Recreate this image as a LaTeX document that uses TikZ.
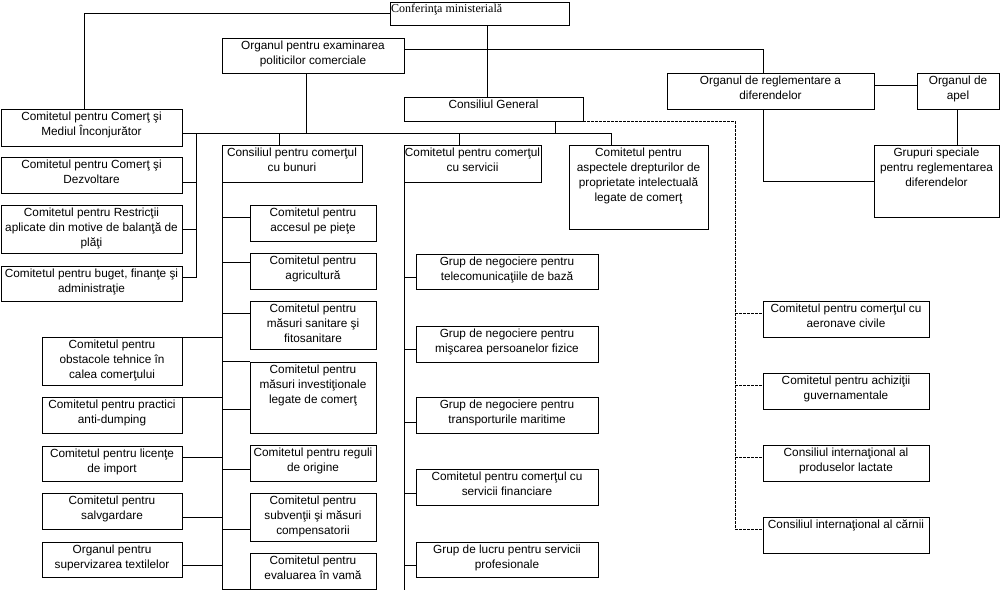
\documentclass[tikz,border=0pt]{standalone}
\usepackage{fontspec}
\setmainfont{Liberation Sans}
\newfontfamily\confserif{Liberation Serif}
\newcommand\boxfont{\fontsize{11.8}{15}\selectfont}

\begin{document}
\begin{tikzpicture}[
  x=1pt, y=-1pt,
  box/.style 2 args={draw, line width=0.9pt, minimum width=#1pt, minimum height=#2pt,
                     inner sep=0pt, outer sep=0pt},
  tx/.style={anchor=north, align=center, inner sep=0pt, yshift=-2.5pt, font=\boxfont},
  ctx/.style={anchor=north west, inner sep=0pt, xshift=1pt, yshift=-2pt,
              font=\confserif\fontsize{12}{14}\selectfont},
  link/.style={line width=0.9pt},
  dlink/.style={line width=0.9pt, dash pattern=on 2.5pt off 1.5pt}
]
\path[use as bounding box, fill=white] (0,0) rectangle (1000,590);

% top level
\node[box={179}{23}, label={[ctx]north west:{Conferinţa ministerială}}] (conf) at (479.5,13.5) {};
\node[box={182}{35}, label={[tx]north:{Organul pentru examinarea\\politicilor comerciale}}] (opc) at (313,55.5) {};
\node[box={179}{24}, label={[tx]north:{Consiliul General}}] (cg) at (493.5,109) {};
\node[box={207}{36}, label={[tx]north:{Organul de reglementare a\\diferendelor}}] (osd) at (770.5,91) {};
\node[box={82}{36}, label={[tx]north:{Organul de\\apel}}] (apel) at (958,91) {};
\node[box={125}{72}, label={[tx]north:{Grupuri speciale\\pentru reglementarea\\diferendelor}}] (grup) at (936.5,181) {};

% committees on the left
\node[box={181}{37}, label={[tx]north:{Comitetul pentru Comerţ şi\\Mediul Înconjurător}}] (cmi) at (91.5,127.5) {};
\node[box={181}{36}, label={[tx]north:{Comitetul pentru Comerţ şi\\Dezvoltare}}] (cdz) at (91.5,175) {};
\node[box={181}{48}, label={[tx]north:{Comitetul pentru Restricţii\\aplicate din motive de balanţă de\\plăţi}}] (crb) at (91.5,229) {};
\node[box={181}{35}, label={[tx]north:{Comitetul pentru buget, finanţe şi\\administraţie}}] (cbg) at (91.5,283.5) {};

% councils
\node[box={140}{37}, label={[tx]north:{Consiliul pentru comerţul\\cu bunuri}}] (cgb) at (292,163.5) {};
\node[box={137}{37}, label={[tx]north:{Comitetul pentru comerţul\\cu servicii}}] (csv) at (472.5,163.5) {};
\node[box={139}{84}, label={[tx]north:{Comitetul pentru\\aspectele drepturilor de\\proprietate intelectuală\\legate de comerţ}}] (trips) at (638.5,187) {};

% goods, right column
\node[box={126}{36}, label={[tx]north:{Comitetul pentru\\accesul pe pieţe}}] (acc) at (313,223) {};
\node[box={126}{36}, label={[tx]north:{Comitetul pentru\\agricultură}}] (agr) at (313,271) {};
\node[box={126}{48}, label={[tx]north:{Comitetul pentru\\măsuri sanitare şi\\fitosanitare}}] (sps) at (313,325) {};
\node[box={126}{71}, label={[tx]north:{Comitetul pentru\\măsuri investiţionale\\legate de comerţ}}] (trims) at (313,397.5) {};
\node[box={126}{36}, label={[tx]north:{Comitetul pentru reguli\\de origine}}] (rog) at (313,463) {};
\node[box={126}{48}, label={[tx]north:{Comitetul pentru\\subvenţii şi măsuri\\compensatorii}}] (scm) at (313,517) {};
\node[box={126}{36}, label={[tx]north:{Comitetul pentru\\evaluarea în vamă}}] (cvl) at (313,571) {};

% goods, left column
\node[box={140}{48}, label={[tx]north:{Comitetul pentru\\obstacole tehnice în\\calea comerţului}}] (tbt) at (112,361) {};
\node[box={140}{36}, label={[tx]north:{Comitetul pentru practici\\anti-dumping}}] (adp) at (112,415) {};
\node[box={140}{35}, label={[tx]north:{Comitetul pentru licenţe\\de import}}] (lic) at (112,463.5) {};
\node[box={140}{36}, label={[tx]north:{Comitetul pentru\\salvgardare}}] (sfg) at (112,511) {};
\node[box={140}{35}, label={[tx]north:{Organul pentru\\supervizarea textilelor}}] (tex) at (112,559.5) {};

% services
\node[box={182}{35}, label={[tx]north:{Grup de negociere pentru\\telecomunicaţiile de bază}}] (bt) at (507,271.5) {};
\node[box={182}{36}, label={[tx]north:{Grup de negociere pentru\\mişcarea persoanelor fizice}}] (mnp) at (507,344) {};
\node[box={182}{36}, label={[tx]north:{Grup de negociere pentru\\transporturile maritime}}] (mts) at (507,415) {};
\node[box={182}{36}, label={[tx]north:{Comitetul pentru comerţul cu\\servicii financiare}}] (fin) at (507,487) {};
\node[box={182}{35}, label={[tx]north:{Grup de lucru pentru servicii\\profesionale}}] (prof) at (507,559.5) {};

% plurilateral
\node[box={166}{36}, label={[tx]north:{Comitetul pentru comerţul cu\\aeronave civile}}] (aer) at (846,319) {};
\node[box={166}{36}, label={[tx]north:{Comitetul pentru achiziţii\\guvernamentale}}] (gp) at (846,391) {};
\node[box={166}{36}, label={[tx]north:{Consiliul internaţional al\\produselor lactate}}] (lact) at (846,463) {};
\node[box={166}{36}, label={[tx]north:{Consiliul internaţional al cărnii}}] (carne) at (846,535) {};

% spines
\coordinate (busL) at (182,133);
\coordinate (busR) at (611,133);
\coordinate (lsp) at (196,133);
\coordinate (gsp) at (222,182);
\coordinate (ssp) at (404,182);
\coordinate (send) at (404,590);
\coordinate (dsp) at (735,121);

% top connections
\draw[link] (conf.west) -| (cmi.north -| 84,0);
\draw[link] (conf.south -| 487,0) -- (cg.north -| 487,0);
\draw[link] (opc.east |- 0,49) -| (osd.north -| 763,0);
\draw[link] (opc.south -| 306,0) -- (busL -| 306,0);
\draw[link] (cg.south -| 555,0) -- (busL -| 555,0);
\draw[link] (cmi.east |- busL) -- (busR) -- (busR |- trips.north);
\draw[link] (busL -| 279,0) -- (cgb.north -| 279,0);
\draw[link] (busL -| 459,0) -- (csv.north -| 459,0);

% dispute settlement
\draw[link] (osd.east |- 0,85) -- (apel.west |- 0,85);
\draw[link] (apel.south -| 957,0) -- (grup.north -| 957,0);
\draw[link] (osd.south -| 763,0) |- (grup.west);

% left committees
\draw[link] (lsp) |- (cbg.east |- 0,277);
\foreach \b/\y in {cdz/182, crb/229}
  \draw[link] (lsp |- 0,\y) -- (\b.east |- 0,\y);

% goods
\draw[link] (cgb.south west) |- (cvl.south west);
\foreach \b/\y in {acc/217, agr/262, sps/313, trims/361, trims/409, rog/469, scm/529}
  \draw[link] (gsp |- 0,\y) -- (\b.west |- 0,\y);
\foreach \b/\y in {tbt/337, adp/397, lic/457, sfg/517, tex/565}
  \draw[link] (gsp |- 0,\y) -- (\b.east |- 0,\y);

% services
\draw[link] (ssp) -- (send);
\foreach \b/\y in {bt/277, mnp/349, mts/422, fin/493, prof/565}
  \draw[link] (ssp |- 0,\y) -- (\b.west |- 0,\y);

% plurilateral (dashed)
\draw[dlink] (cg.south east) -- (dsp) |- (carne.west |- 0,529);
\foreach \b/\y in {aer/313, gp/385, lact/457}
  \draw[dlink] (dsp |- 0,\y) -- (\b.west |- 0,\y);

\end{tikzpicture}
\end{document}
